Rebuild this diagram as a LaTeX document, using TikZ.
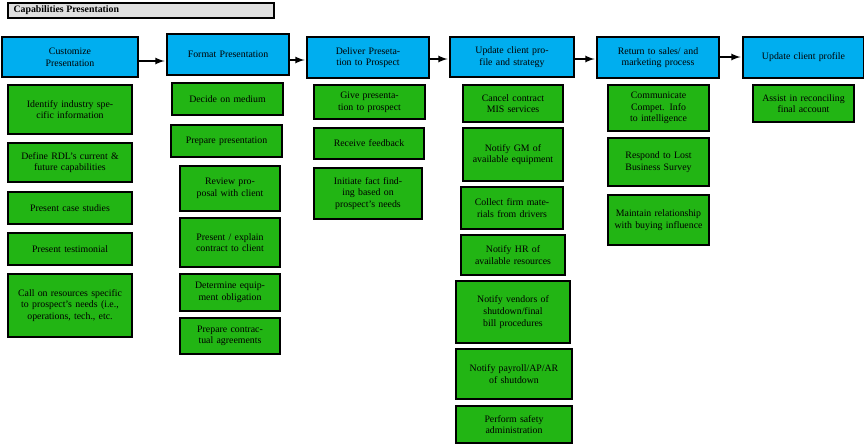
\documentclass[tikz,border=0pt]{standalone}
\usepackage{fontspec}
\setmainfont{Liberation Serif}
\definecolor{stagecyan}{HTML}{00AEEF}
\definecolor{taskgreen}{HTML}{22B514}
\tikzset{
  stage/.style 2 args={draw,thick,fill=stagecyan,minimum width=#1*0.02cm,minimum height=#2*0.02cm,text width=#1*0.02cm-0.3cm,align=center,inner sep=0pt,font=\fontsize{5.6}{6.6}\selectfont},
  task/.style 2 args={draw,thick,fill=taskgreen,minimum width=#1*0.02cm,minimum height=#2*0.02cm,text width=#1*0.02cm-0.25cm,align=center,inner sep=0pt,font=\fontsize{5.6}{6.6}\selectfont},
  flow/.style={->,>=latex,thick,shorten >=1pt}
}
\begin{document}
\begin{tikzpicture}[x=0.02cm,y=-0.02cm]
\useasboundingbox (0,0) rectangle (864,443);
\node[draw,thick,fill=gray!25,minimum width=266*0.02cm,minimum height=15*0.02cm,inner sep=0pt,font=\fontsize{5.6}{6.6}\selectfont\bfseries] (title) at (141,10.5){\makebox[5.1cm][l]{Capabilities Presentation}};

\node[stage={136}{40}] (h1) at (70,57){Customize\\Presentation};
\node[stage={122}{41}] (h2) at (228,54.5){Format Presentation};
\node[stage={122}{41}] (h3) at (368,57.5){Deliver Presetation to Prospect};
\node[stage={124}{40}] (h4) at (512,57){Update client profile and strategy};
\node[stage={122}{41}] (h5) at (658,57.5){Return to sales/ and marketing process};
\node[stage={121}{41}] (h6) at (803.5,57.5){Update client profile};

\node[task={124}{49}] (c1a) at (70,109.5){Identify industry specific information};
\node[task={124}{39}] (c1b) at (70,162.5){Define RDL's current \&\\future capabilities};
\node[task={124}{32}] (c1c) at (70,208){Present case studies};
\node[task={124}{32}] (c1d) at (70,249){Present testimonial};
\node[task={124}{63}] (c1e) at (70,305.5){Call on resources specific to prospect's needs (i.e., operations, tech., etc.};

\node[task={111}{32}] (c2a) at (227.5,99){Decide on medium};
\node[task={111}{32}] (c2b) at (226.5,141){Prepare presentation};
\node[task={100}{45}] (c2c) at (230,188.5){Review proposal with client};
\node[task={100}{49}] (c2d) at (230,242.5){Present / explain contract to client};
\node[task={100}{37}] (c2e) at (230,292.5){Determine equipment obligation};
\node[task={100}{36}] (c2f) at (230,336){Prepare contractual agreements};

\node[task={111}{34}] (c3a) at (369.5,102){Give presentation to prospect};
\node[task={110}{31}] (c3b) at (369,143.5){Receive feedback};
\node[task={108}{51}] (c3c) at (368,193.5){Initiate fact finding based on prospect's needs};

\node[task={100}{37}] (c4a) at (513,103.5){Cancel contract MIS services};
\node[task={100}{53}] (c4b) at (513,154.5){Notify GM of\\available equipment};
\node[task={102}{42}] (c4c) at (512,208){Collect firm materials from drivers};
\node[task={104}{40}] (c4d) at (513,255){Notify HR of available resources};
\node[task={114}{62}] (c4e) at (513,312){Notify vendors of shutdown/final bill procedures};
\node[task={116}{50}] (c4f) at (514,374){Notify payroll/AP/AR of shutdown};
\node[task={116}{37}] (c4g) at (514,424.5){Perform safety administration};

\node[task={101}{46}] (c5a) at (658.5,108){Communicate\\Compet. Info to intelligence};
\node[task={101}{48}] (c5b) at (658.5,162){Respond to Lost Business Survey};
\node[task={101}{50}] (c5c) at (658.5,220){Maintain relationship with buying influence};

\node[task={101}{37}] (c6a) at (803.5,103.5){Assist in reconciling final account};

\draw[flow] (h1.east |- 0,61) -- (h2.west |- 0,61);
\draw[flow] (h2.east |- 0,60) -- (h3.west |- 0,60);
\draw[flow] (h3.east |- 0,59) -- (h4.west |- 0,59);
\draw[flow] (h4.east |- 0,59) -- (h5.west |- 0,59);
\draw[flow] (h5.east |- 0,57) -- (h6.west |- 0,57);
\end{tikzpicture}
\end{document}
